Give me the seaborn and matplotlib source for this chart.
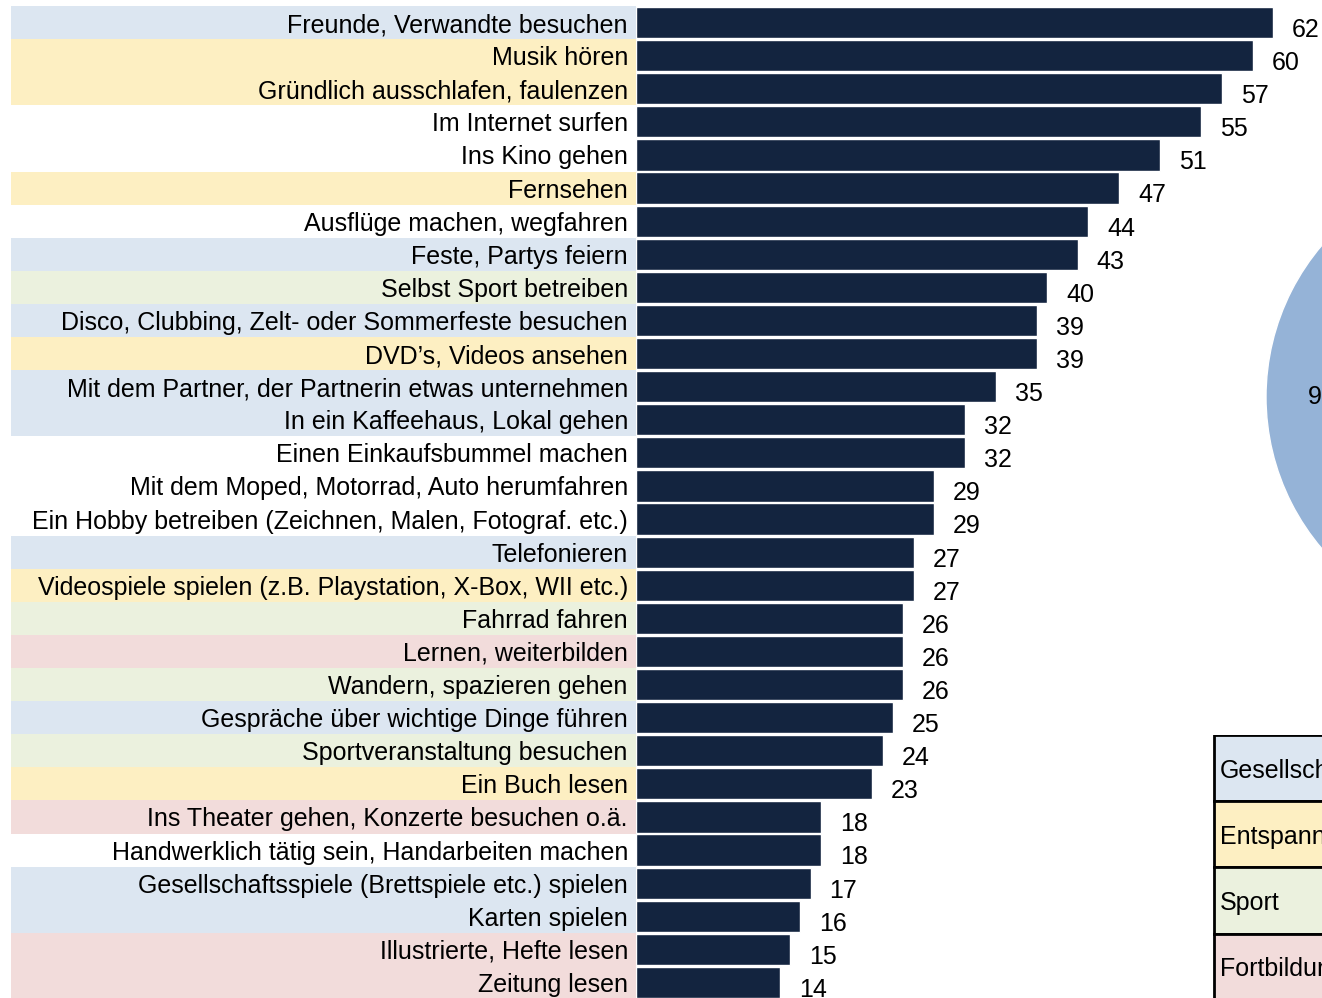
import numpy as np
import pandas as pd
import matplotlib
matplotlib.use("Agg")
import matplotlib.pyplot as plt
import seaborn as sns

# activities, share in percent, and their group
activities = [
    "Freunde, Verwandte besuchen", "Musik hören", "Gründlich ausschlafen, faulenzen",
    "Im Internet surfen", "Ins Kino gehen", "Fernsehen", "Ausflüge machen, wegfahren",
    "Feste, Partys feiern", "Selbst Sport betreiben",
    "Disco, Clubbing, Zelt- oder Sommerfeste besuchen", "DVD’s, Videos ansehen",
    "Mit dem Partner, der Partnerin etwas unternehmen", "In ein Kaffeehaus, Lokal gehen",
    "Einen Einkaufsbummel machen", "Mit dem Moped, Motorrad, Auto herumfahren",
    "Ein Hobby betreiben (Zeichnen, Malen, Fotograf. etc.)", "Telefonieren",
    "Videospiele spielen (z.B. Playstation, X-Box, WII etc.)", "Fahrrad fahren",
    "Lernen, weiterbilden", "Wandern, spazieren gehen",
    "Gespräche über wichtige Dinge führen", "Sportveranstaltung besuchen", "Ein Buch lesen",
    "Ins Theater gehen, Konzerte besuchen o.ä.", "Handwerklich tätig sein, Handarbeiten machen",
    "Gesellschaftsspiele (Brettspiele etc.) spielen", "Karten spielen",
    "Illustrierte, Hefte lesen", "Zeitung lesen",
]
values = [62, 60, 57, 55, 51, 47, 44, 43, 40, 39, 39, 35, 32, 32, 29,
          29, 27, 27, 26, 26, 26, 25, 24, 23, 18, 18, 17, 16, 15, 14]
groups = ["G", "E", "E", "-", "-", "E", "-", "G", "S", "G", "E", "G", "G", "-", "-",
          "-", "G", "E", "S", "F", "S", "G", "S", "E", "F", "-", "G", "G", "F", "F"]

group_names = ["Gesellschaft", "Entspannung", "Sport", "Fortbildung"]
group_keys = ["G", "E", "S", "F"]
group_counts = [9, 6, 4, 4, 7]   # last one: without group

band_colors = {"G": "#DCE6F1", "E": "#FDEFC2", "S": "#EBF1DE", "F": "#F2DCDB", "-": "#FFFFFF"}
pie_colors = ["#95B3D7", "#FFD966", "#C3D69B", "#E6B9B8", "#D9D9D9"]
bar_color = "#13243F"

df = pd.DataFrame({"activity": activities, "value": values, "group": groups})

sns.set_theme(style="white")
plt.rcParams["font.family"] = ["Liberation Sans", "DejaVu Sans"]
plt.rcParams["text.color"] = "black"

W, H = 1322, 998
fig = plt.figure(figsize=(W / 100, H / 100), dpi=100)

def px_axes(x0, y0, x1, y1):
    return fig.add_axes([x0 / W, 1 - y1 / H, (x1 - x0) / W, (y1 - y0) / H])

n = len(activities)
pos = np.arange(n)
fs = 18

# label column with coloured bands
ax_lab = px_axes(11, 6, 636, 999)
ax_lab.barh(pos, 1, height=1.0, left=0, color=[band_colors[g] for g in groups], linewidth=0)
for i, a in enumerate(activities):
    ax_lab.text(0.987, i, a, ha="right", va="center_baseline", fontsize=fs, color="black")
ax_lab.set_xlim(0, 1)
ax_lab.set_ylim(n - 0.5, -0.5)
ax_lab.axis("off")

# bars
ax = px_axes(636, 6, 1322, 999)
sns.barplot(data=df, x="value", y="activity", color=bar_color, saturation=1,
            width=0.94, edgecolor="white", linewidth=1, ax=ax)
for i, v in enumerate(values):
    ax.annotate(str(v), (v, i), xytext=(13.5, -3.5), textcoords="offset points",
                ha="left", va="center_baseline", fontsize=fs, color="black")
ax.set_xlim(0, 686 / 10.28)
ax.set_ylim(n - 0.5, -0.5)
ax.axis("off")

# pie (mostly outside the canvas)
ax_pie = px_axes(1266, 163, 1734, 631)
total = sum(group_counts)
ax_pie.pie(group_counts, colors=pie_colors, startangle=180 - 180 * group_counts[0] / total,
           autopct=lambda p: f"{p * total / 100:.0f}", pctdistance=0.79,
           textprops={"fontsize": fs, "color": "black"}, radius=1)
ax_pie.set_xlim(-1, 1)
ax_pie.set_ylim(-1, 1)
ax_pie.axis("off")

# legend table
ax_leg = px_axes(1213, 735, 1500, 1000)
ax_leg.barh(np.arange(4), 1, height=1.0, left=0,
            color=[band_colors[k] for k in group_keys], edgecolor="black", linewidth=2)
for i, g in enumerate(group_names):
    ax_leg.text(0.02, i, g, ha="left", va="center_baseline", fontsize=fs, color="black")
ax_leg.set_xlim(-0.005, 1)
ax_leg.set_ylim(3.5, -0.5)
ax_leg.axis("off")

fig.savefig("out.png", dpi=100)
